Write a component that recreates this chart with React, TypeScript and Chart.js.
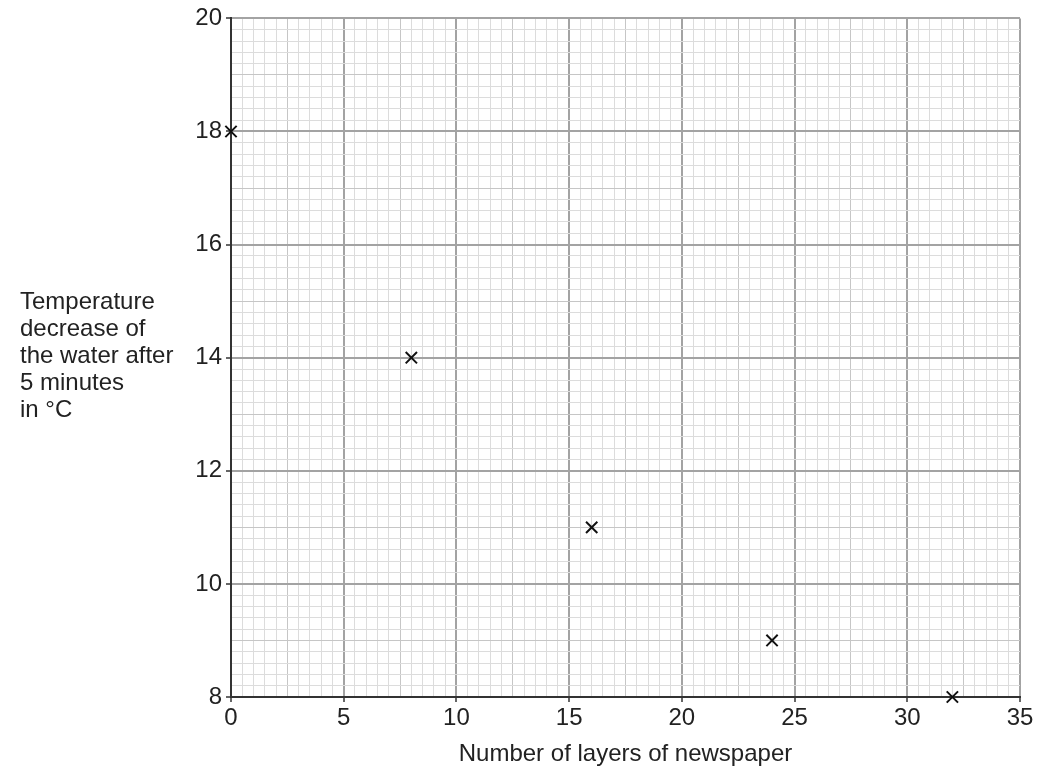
import React, { useEffect, useRef } from "react";
import { Chart, registerables } from "chart.js";

Chart.register(...registerables);

// layers of newspaper vs temperature drop after 5 minutes
const layers = [0, 8, 16, 24, 32];
const tempDecrease = [18, 14, 11, 9, 8];

const xTitle = "Number of layers of newspaper";
const yTitleLines = [
  "Temperature",
  "decrease of",
  "the water after",
  "5 minutes",
  "in °C",
];

const FONT = '"Liberation Sans", Arial, Helvetica, sans-serif';

const near = (v: number, step: number) =>
  Math.abs(v - Math.round(v / step) * step) < 1e-6;

// graph paper look: bold every major, medium at the half, faint minor
const gridColor = (major: number, half: number) => (ctx: any) => {
  const v = ctx.tick?.value ?? 0;
  if (near(v, major)) return "#a3a3a3";
  if (near(v, half)) return "#c6c6c6";
  return "#dcdcdc";
};
const gridWidth = (major: number) => (ctx: any) => {
  const v = ctx.tick?.value ?? 0;
  return near(v, major) ? 2 : 1;
};
const tickMarkColor = (major: number) => (ctx: any) => {
  const v = ctx.tick?.value ?? 0;
  return near(v, major) ? "#333" : "rgba(0,0,0,0)";
};

const App = () => {
  const chartRef = useRef<HTMLCanvasElement>(null);
  const chartInstanceRef = useRef<Chart | null>(null);

  useEffect(() => {
    const ctx = chartRef.current?.getContext("2d");
    if (!ctx) return;

    if (chartInstanceRef.current) {
      chartInstanceRef.current.destroy();
    }

    chartInstanceRef.current = new Chart(ctx, {
      type: "scatter",
      data: {
        datasets: [
          {
            label: "Temperature decrease",
            data: layers.map((x, i) => ({ x, y: tempDecrease[i] })),
            pointStyle: "crossRot",
            pointRadius: 8,
            borderColor: "#111",
            backgroundColor: "#111",
            borderWidth: 2,
            clip: false as any,
          },
        ],
      },
      options: {
        animation: false,
        responsive: true,
        maintainAspectRatio: false,
        events: [],
        layout: {
          padding: { left: 0, right: 25, top: 18, bottom: 0 },
        },
        plugins: {
          legend: { display: false },
          tooltip: { enabled: false },
        },
        scales: {
          x: {
            type: "linear",
            min: 0,
            max: 35,
            afterFit: (s: any) => {
              s.height = 85;
            },
            ticks: {
              stepSize: 0.5,
              autoSkip: false,
              maxRotation: 0,
              padding: 2,
              color: "#222",
              font: { family: FONT, size: 24 },
              callback: (v: any) => (near(Number(v), 5) ? String(Math.round(Number(v))) : ""),
            },
            grid: {
              color: gridColor(5, 2.5),
              lineWidth: gridWidth(5),
              tickColor: tickMarkColor(5),
              tickLength: 5,
              tickWidth: 1.5,
            },
            border: { display: true, color: "#333", width: 2 },
            title: {
              display: true,
              text: xTitle,
              color: "#222",
              font: { family: FONT, size: 24 },
              padding: { top: 0, bottom: 13 },
            },
          },
          y: {
            type: "linear",
            min: 8,
            max: 20,
            afterFit: (s: any) => {
              s.width = 231;
            },
            ticks: {
              stepSize: 0.2,
              autoSkip: false,
              padding: 4,
              color: "#222",
              font: { family: FONT, size: 24 },
              callback: (v: any) => (near(Number(v), 2) ? String(Math.round(Number(v))) : ""),
            },
            grid: {
              color: gridColor(2, 1),
              lineWidth: gridWidth(2),
              tickColor: tickMarkColor(2),
              tickLength: 5,
              tickWidth: 1.5,
            },
            border: { display: true, color: "#333", width: 2 },
          },
        },
      },
    });

    return () => {
      if (chartInstanceRef.current) {
        chartInstanceRef.current.destroy();
        chartInstanceRef.current = null;
      }
    };
  }, []);

  return (
    <div
      style={{
        position: "fixed",
        left: 0,
        top: 0,
        width: 1045,
        height: 782,
        background: "#fff",
      }}
    >
      <canvas ref={chartRef}></canvas>
      <div
        style={{
          position: "absolute",
          left: 20,
          top: 287,
          fontFamily: FONT,
          fontSize: 24,
          lineHeight: "27px",
          color: "#222",
          whiteSpace: "nowrap",
        }}
      >
        {yTitleLines.map((line) => (
          <div key={line}>{line}</div>
        ))}
      </div>
    </div>
  );
};

export default App;
